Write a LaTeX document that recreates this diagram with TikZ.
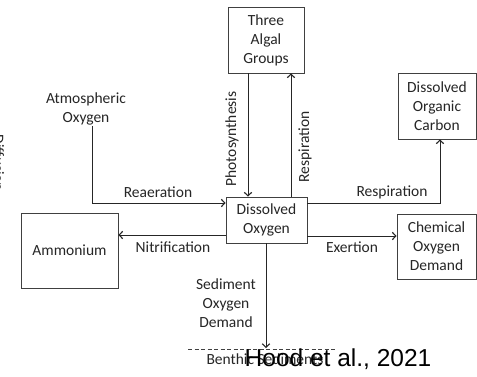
\documentclass[tikz,border=0pt]{standalone}
\usepackage{fontspec}
\setmainfont{Carlito}
\newfontfamily\citefont{Liberation Sans}
\usetikzlibrary{arrows.meta}
\tikzset {>={Straight Barb[length=3.5pt,width=7.5pt,line width=1.1pt]}}

\begin{document}
\begin{tikzpicture}[x=1pt,y=-1pt,
  font=\fontsize{15.5}{19}\selectfont,text=black!85,
  box/.style={draw=black!75,line width=0.9pt,align=center,inner sep=0pt},
  flow/.style={draw=black!85,line width=0.9pt,->},
  lbl/.style={align=center,inner sep=0pt}]
\clip (0,0) rectangle (477,376);
\fill[white] (0,0) rectangle (477,376);
% boxes
\node[box,minimum width=76pt,minimum height=66pt] (algae) at (266,40) {Three\\Algal\\Groups};
\node[box,minimum width=81pt,minimum height=46pt] (do) at (266.5,220) {Dissolved\\Oxygen};
\node[box,minimum width=78pt,minimum height=66pt] (doc) at (437,106) {Dissolved\\Organic\\Carbon};
\node[box,minimum width=79pt,minimum height=65pt] (cod) at (436.5,246.5) {Chemical\\Oxygen\\Demand};
\node[box,minimum width=97pt,minimum height=75pt] (amm) at (69.5,250.5) {Ammonium};
\node[lbl,anchor=north] (atm) at (86,93) {Atmospheric\\Oxygen};
% sediment bed
\coordinate (bedL) at (188,349);
\coordinate (bedR) at (337,349);
\coordinate (bed) at (266,348);
\draw[black!75,line width=0.8pt,dash pattern=on 4pt off 2.5pt] (bedL) -- (bedR);
% connectors
\draw[flow] ([xshift=-18pt]algae.south) -- ([xshift=-18.5pt]do.north);
\draw[flow] ([xshift=24.5pt]do.north) -- ([xshift=25pt]algae.south);
\draw[flow] ([xshift=6pt]atm.south) |- ([yshift=17pt]do.west);
\draw[flow] ([yshift=17pt]do.east) -| ([xshift=3pt]doc.south);
\draw[flow] ([yshift=-16pt]do.east) -- ([yshift=-16pt]do.east -| cod.west);
\draw[flow] ([yshift=-15pt]do.west) -- ([yshift=-15pt]do.west -| amm.east);
\draw[flow] (do.south -| bed) -- (bed);
% labels
\node[lbl] (reaer) at (158,192) {Reaeration};
\node[lbl,rotate=90] (photo) at (232,139) {Photosynthesis};
\node[lbl,rotate=90] (respup) at (305,147) {Respiration};
\node[lbl] (respdoc) at (392,192) {Respiration};
\node[lbl] (exert) at (352,247) {Exertion};
\node[lbl] (nitri) at (173,247) {Nitrification};
\node[lbl] (sod) at (226,303) {Sediment\\Oxygen\\Demand};
\node[lbl] (benthic) at (265,359) {Benthic Sediments};
\node[lbl,rotate=-90,anchor=base] (diff) at (-6.5,163) {Diffusion};
\node[lbl,font=\citefont\fontsize{24.5}{28}\selectfont,text=black] (cite) at (338,359) {Hood et al., 2021};
\end{tikzpicture}
\end{document}
